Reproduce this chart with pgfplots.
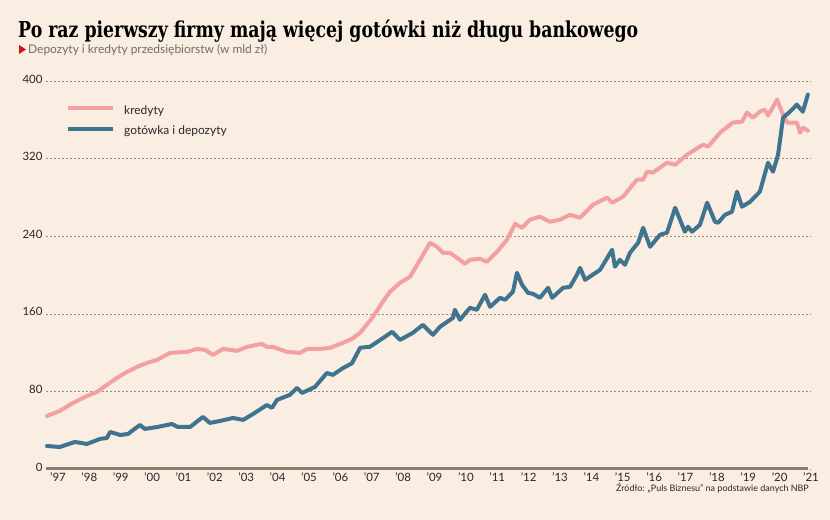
\documentclass[border=0pt]{standalone}
\usepackage{pgfplots}
\pgfplotsset{compat=1.18}
\usepackage{fontspec}
\setmainfont{Lato}
\newfontfamily\titlefont{DejaVu Serif}
\definecolor{bgc}{RGB}{250,237,225}
\definecolor{pinkc}{RGB}{242,160,160}
\definecolor{bluec}{RGB}{62,116,144}
\definecolor{gridc}{RGB}{150,140,130}
\definecolor{basec}{RGB}{140,124,110}
\definecolor{subc}{RGB}{110,110,110}
\definecolor{redc}{RGB}{205,20,30}
\definecolor{tickc}{RGB}{40,40,40}
\begin{document}
\begin{tikzpicture}
\fill[bgc] (0,0) rectangle (830bp,520bp);
\path[use as bounding box] (0,0) rectangle (830bp,520bp);
\begin{axis}[
  at={(46bp,51bp)}, anchor=south west, scale only axis,
  width=765bp, height=388bp,
  xmin=1996.618, xmax=2021, ymin=0, ymax=400,
  axis line style={draw=none},
  tick style={draw=none}, major tick length=0pt,
  ytick={0,80,160,240,320,400},
  yticklabels={0,80,160,240,320,400},
  yticklabel style={font=\fontsize{11.5}{13}\selectfont, text=tickc, yshift=2bp},
  xtick={1997,1998,1999,2000,2001,2002,2003,2004,2005,2006,2007,2008,2009,2010,2011,2012,2013,2014,2015,2016,2017,2018,2019,2020,2021},
  xticklabels={'97,'98,'99,'00,'01,'02,'03,'04,'05,'06,'07,'08,'09,'10,'11,'12,'13,'14,'15,'16,'17,'18,'19,'20,'21},
  xticklabel style={font=\fontsize{11.5}{13}\selectfont, text=tickc, yshift=-0.5bp},
  ymajorgrids, grid style={gridc, line width=0.5bp, dash pattern=on 2bp off 2bp},
  clip=false,
]
\draw[basec, line width=3bp] (axis cs:1996.618,0) -- (axis cs:2020.905,0);
% kredyty
\addplot[pinkc, line width=4bp, line join=round, line cap=round] coordinates {
(1996.65,54.7) (1997.06,59.9) (1997.48,68.1) (1997.86,74.3) (1998.24,79.5) (1998.56,86.7)
(1998.88,93.9) (1999.20,100.1) (1999.52,105.3) (1999.84,109.4) (2000.16,112.5) (2000.57,119.7)
(2001.11,120.7) (2001.43,123.8) (2001.69,122.8) (2001.94,117.6) (2002.26,123.8) (2002.71,121.8)
(2003.02,125.9) (2003.50,129.0) (2003.66,125.9) (2003.85,125.9) (2004.30,120.7) (2004.71,119.7)
(2004.94,123.8) (2005.35,123.8) (2005.67,124.9) (2006.08,130.0) (2006.37,134.2) (2006.63,140.4)
(2007.04,156.9) (2007.33,171.3) (2007.58,182.7) (2007.90,192.0) (2008.22,198.1) (2008.54,215.7)
(2008.86,233.2) (2009.08,229.1) (2009.27,222.9) (2009.49,222.9) (2009.72,217.7) (2009.97,211.6)
(2010.13,215.7) (2010.45,216.7) (2010.67,213.6) (2010.99,223.9) (2011.31,236.3) (2011.57,252.8)
(2011.79,248.7) (2012.04,257.0) (2012.36,260.1) (2012.68,254.9) (2013.00,257.0) (2013.32,262.1)
(2013.64,259.0) (2014.05,272.4) (2014.50,279.7) (2014.66,274.5) (2015.01,280.7) (2015.45,298.2)
(2015.65,298.2) (2015.77,306.5) (2015.96,305.5) (2016.41,315.8) (2016.67,313.7) (2017.05,324.0)
(2017.56,334.4) (2017.72,332.3) (2018.10,346.7) (2018.51,357.1) (2018.80,358.1) (2018.96,367.4)
(2019.15,362.2) (2019.37,368.4) (2019.53,370.5) (2019.63,364.3) (2019.92,380.8) (2020.08,367.4)
(2020.24,357.1) (2020.55,357.1) (2020.65,346.7) (2020.74,351.9) (2020.90,348.8)
};
% gotowka i depozyty
\addplot[bluec, line width=4bp, line join=round, line cap=round] coordinates {
(1996.65,23.7) (1997.06,22.7) (1997.54,27.9) (1997.92,25.8) (1998.34,31.0) (1998.56,32.0)
(1998.66,38.2) (1998.98,35.1) (1999.23,36.1) (1999.61,45.4) (1999.77,41.3) (2000.16,43.3)
(2000.63,46.4) (2000.82,43.3) (2001.21,43.3) (2001.62,53.7) (2001.84,47.5) (2002.16,49.5)
(2002.58,52.6) (2002.90,50.6) (2003.22,56.8) (2003.66,66.0) (2003.82,63.0) (2003.98,71.2)
(2004.30,75.3) (2004.39,76.4) (2004.62,83.6) (2004.78,78.4) (2005.19,84.6) (2005.57,99.0)
(2005.76,97.0) (2006.08,104.0) (2006.37,109.0) (2006.63,125.0) (2006.94,126.0) (2007.36,135.0)
(2007.65,141.4) (2007.90,133.1) (2008.31,140.4) (2008.63,148.6) (2008.95,138.3) (2009.17,146.5)
(2009.59,155.8) (2009.65,164.1) (2009.81,153.8) (2010.13,166.2) (2010.35,164.1) (2010.61,179.6)
(2010.77,167.2) (2011.09,176.5) (2011.25,174.4) (2011.50,182.7) (2011.63,202.3) (2011.79,189.9)
(2011.98,181.6) (2012.14,180.6) (2012.36,176.5) (2012.62,186.8) (2012.75,176.5) (2013.10,186.8)
(2013.32,187.8) (2013.54,200.2) (2013.64,207.4) (2013.80,195.0) (2014.28,205.4) (2014.66,226.0)
(2014.75,208.5) (2014.91,215.7) (2015.07,210.5) (2015.23,222.9) (2015.49,233.2) (2015.65,248.7)
(2015.87,229.1) (2016.19,241.5) (2016.41,243.6) (2016.67,269.3) (2016.98,244.6) (2017.08,249.7)
(2017.21,244.6) (2017.46,251.8) (2017.69,274.5) (2017.94,254.9) (2018.04,253.9) (2018.26,262.1)
(2018.48,265.2) (2018.64,285.9) (2018.80,270.4) (2019.06,275.5) (2019.37,285.9) (2019.63,315.8)
(2019.79,306.5) (2019.95,324.0) (2020.11,362.2) (2020.33,368.4) (2020.55,375.6) (2020.74,368.4)
(2020.90,386.0)
};
\end{axis}
% title
\node[anchor=base west, inner sep=0, text=black] at (18bp,482bp)
  {\resizebox{620bp}{\height}{\titlefont\bfseries\fontsize{22}{24}\selectfont Po raz pierwszy firmy mają więcej gotówki niż długu bankowego}};
% subtitle
\fill[redc] (19bp,475bp) -- (19bp,466bp) -- (26bp,470.5bp) -- cycle;
\node[anchor=base west, inner sep=0, text=subc] at (28bp,466bp)
  {\fontsize{12}{14}\selectfont Depozyty i kredyty przedsiębiorstw (w mld zł)};
% legend
\draw[pinkc, line width=4.5bp] (68bp,412bp) -- (113bp,412bp);
\node[anchor=base west, inner sep=0, text=tickc] at (124bp,405bp) {\fontsize{12}{14}\selectfont kredyty};
\draw[bluec, line width=4.5bp] (68bp,391bp) -- (113bp,391bp);
\node[anchor=base west, inner sep=0, text=tickc] at (124bp,385bp) {\fontsize{12}{14}\selectfont gotówka i depozyty};
% source
\node[anchor=base east, inner sep=0, text=tickc] at (809bp,28.5bp)
  {\fontsize{9}{10}\selectfont Źródło: „Puls Biznesu” na podstawie danych NBP};
\end{tikzpicture}
\end{document}
